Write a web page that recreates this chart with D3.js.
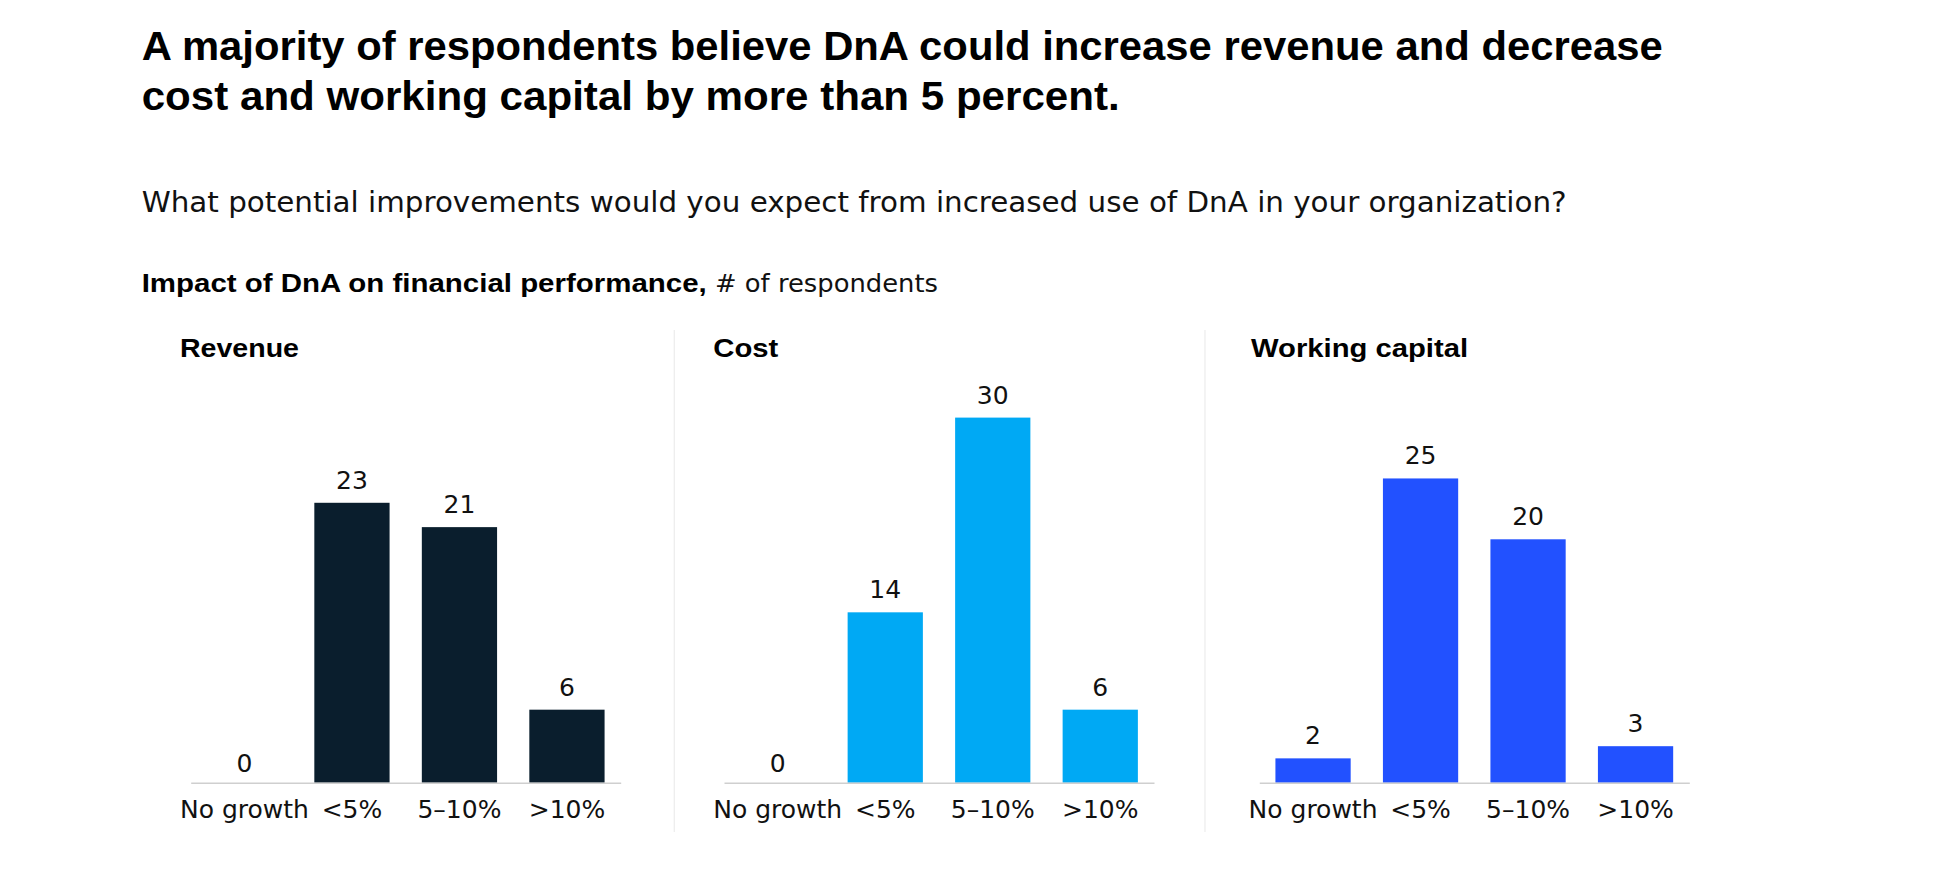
<!DOCTYPE html>
<html>
<head>
<meta charset="utf-8">
<script src="https://cdn.jsdelivr.net/npm/d3@7/dist/d3.min.js"></script>
<style>
  html, body { margin: 0; padding: 0; background: #ffffff; }
  svg { display: block; }
</style>
</head>
<body>
<svg id="chart" width="1936" height="874"></svg>
<script>
// ---- Data ----
const categories = ["No growth", "<5%", "5–10%", ">10%"];
const panelTitles = ["Revenue", "Cost", "Working capital"];
const revenue = [0, 23, 21, 6];
const cost = [0, 14, 30, 6];
const workingCapital = [2, 25, 20, 3];
const seriesValues = [revenue, cost, workingCapital];
const panelColors = ["#0a1e2d", "#00a9f4", "#2251ff"];

const titleLines = [
  "A majority of respondents believe DnA could increase revenue and decrease",
  "cost and working capital by more than 5 percent."
];
const subtitle = "What potential improvements would you expect from increased use of DnA in your organization?";
const unitBold = "Impact of DnA on financial performance,";
const unitLight = "# of respondents";

// ---- Layout ----
const svg = d3.select("#chart");
const W = 1936, H = 874;
svg.append("rect").attr("width", W).attr("height", H).attr("fill", "#fff");

const boldFont = "'Liberation Sans', Arial, Helvetica, sans-serif";
const lightFont = "'DejaVu Sans', 'Liberation Sans', sans-serif";

function fit(sel, target) {
  const n = sel.node().getComputedTextLength();
  if (n > 0 && Math.abs(n - target) > 1) {
    sel.attr("textLength", target).attr("lengthAdjust", "spacingAndGlyphs");
  }
  return sel;
}

// Title
const titleX = 141.7;
const titleBaselines = [60, 110];
const titleWidths = [1521, 978];
titleLines.forEach((t, i) => {
  const el = svg.append("text")
    .attr("x", titleX).attr("y", titleBaselines[i])
    .attr("font-family", boldFont).attr("font-weight", 700)
    .attr("font-size", 40).attr("fill", "#000")
    .text(t);
  fit(el, titleWidths[i]);
});

// Subtitle
fit(svg.append("text")
  .attr("x", titleX).attr("y", 212)
  .attr("font-family", lightFont).attr("font-weight", 400)
  .attr("font-size", 28).attr("fill", "#111")
  .text(subtitle), 1425);

// Unit line
fit(svg.append("text")
  .attr("x", titleX).attr("y", 292)
  .attr("font-family", boldFont).attr("font-weight", 700)
  .attr("font-size", 26).attr("fill", "#000")
  .text(unitBold), 565);
fit(svg.append("text")
  .attr("x", 715).attr("y", 292)
  .attr("font-family", lightFont).attr("font-weight", 400)
  .attr("font-size", 25).attr("fill", "#111")
  .text(unitLight), 223);

// Panels
const axisStarts = [190.7, 724, 1259.3];
const axisWidth = 430;
const baseY = 782.7;
const topY = 417.6;
const panelTitleX = [180, 713.3, 1251];
const panelTitleW = [119, 65, 217];
const dividerX = [674.3, 1205];

const y = d3.scaleLinear().domain([0, 30]).range([baseY, topY]);

dividerX.forEach(dx => {
  svg.append("line")
    .attr("x1", dx).attr("x2", dx)
    .attr("y1", 330).attr("y2", 832)
    .attr("stroke", "#ececec").attr("stroke-width", 1.2);
});

panelTitles.forEach((pt, i) => {
  const values = seriesValues[i];
  const x = d3.scaleBand()
    .domain(categories)
    .range([axisStarts[i], axisStarts[i] + axisWidth])
    .paddingInner(0.3)
    .paddingOuter(0.15);

  const g = svg.append("g");

  fit(g.append("text")
    .attr("x", panelTitleX[i]).attr("y", 357)
    .attr("font-family", boldFont).attr("font-weight", 700)
    .attr("font-size", 26).attr("fill", "#000")
    .text(pt), panelTitleW[i]);

  const data = categories.map((c, k) => ({ c, v: values[k] }));

  g.selectAll("rect.bar").data(data).join("rect")
    .attr("class", "bar")
    .attr("x", d => x(d.c))
    .attr("width", x.bandwidth())
    .attr("y", d => y(d.v))
    .attr("height", d => y(0) - y(d.v))
    .attr("fill", panelColors[i]);

  g.selectAll("text.val").data(data).join("text")
    .attr("class", "val")
    .attr("x", d => x(d.c) + x.bandwidth() / 2)
    .attr("y", d => y(d.v) - (d.v === 0 ? 10.5 : 14))
    .attr("text-anchor", "middle")
    .attr("font-family", lightFont)
    .attr("font-size", 25)
    .attr("fill", "#111")
    .text(d => d.v);

  const ax = g.append("g")
    .attr("transform", `translate(0,${baseY})`)
    .call(d3.axisBottom(x).tickSize(0).tickSizeOuter(0));
  ax.select(".domain").attr("stroke", "#cfcfcf").attr("stroke-width", 1.6);
  ax.selectAll(".tick text")
    .attr("y", 35.6).attr("dy", 0)
    .attr("font-family", lightFont)
    .attr("font-size", 25)
    .attr("fill", "#111");
});
</script>
</body>
</html>
